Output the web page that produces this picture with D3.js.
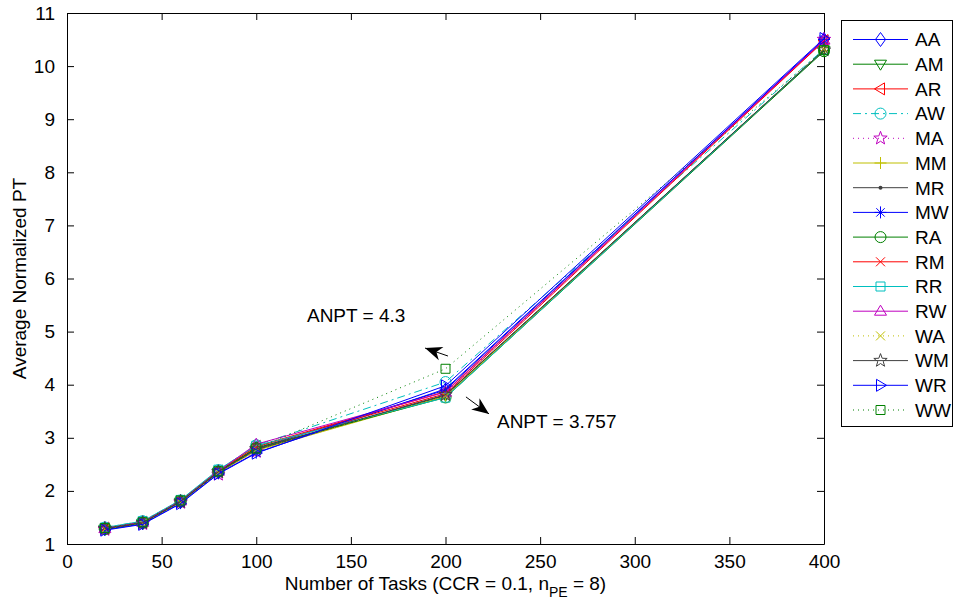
<!DOCTYPE html>
<html>
<head>
<meta charset="utf-8">
<script src="https://cdn.jsdelivr.net/npm/d3@7"></script>
<style>
  body { margin: 0; background: #fff; }
  text { font-family: Arial, "Liberation Sans", Helvetica, sans-serif; fill: #000; }
</style>
</head>
<body>
<svg id="chart" width="955" height="606"></svg>
<script>
// Number of tasks on the x axis
const tasks = [20, 40, 60, 80, 100, 200, 400];

// Average normalized PT per heuristic combination
const AA = [1.29, 1.40, 1.80, 2.36, 2.80, 3.90, 10.50];
const AM = [1.28, 1.39, 1.79, 2.35, 2.77, 3.80, 10.30];
const AR = [1.30, 1.41, 1.81, 2.37, 2.84, 3.87, 10.48];
const AW = [1.31, 1.43, 1.82, 2.39, 2.86, 4.05, 10.32];
const MA = [1.27, 1.38, 1.78, 2.31, 2.74, 3.84, 10.50];
const MM = [1.28, 1.39, 1.79, 2.34, 2.76, 3.78, 10.29];
const MR = [1.29, 1.40, 1.80, 2.35, 2.78, 3.80, 10.30];
const MW = [1.27, 1.38, 1.77, 2.33, 2.72, 3.92, 10.50];
const RA = [1.28, 1.40, 1.80, 2.36, 2.81, 3.76, 10.28];
const RM = [1.30, 1.42, 1.82, 2.38, 2.83, 3.83, 10.47];
const RR = [1.31, 1.43, 1.83, 2.40, 2.85, 3.757, 10.30];
const RW = [1.29, 1.41, 1.81, 2.37, 2.88, 3.86, 10.49];
const WA = [1.28, 1.39, 1.78, 2.34, 2.78, 3.79, 10.31];
const WM = [1.29, 1.40, 1.80, 2.36, 2.79, 3.81, 10.30];
const WR = [1.26, 1.37, 1.76, 2.32, 2.71, 3.98, 10.52];
const WW = [1.30, 1.41, 1.82, 2.37, 2.80, 4.30, 10.30];

const seriesNames = ["AA","AM","AR","AW","MA","MM","MR","MW","RA","RM","RR","RW","WA","WM","WR","WW"];
const seriesValues = [AA, AM, AR, AW, MA, MM, MR, MW, RA, RM, RR, RW, WA, WM, WR, WW];

const xTicks = [0, 50, 100, 150, 200, 250, 300, 350, 400];
const yTicks = [1, 2, 3, 4, 5, 6, 7, 8, 9, 10, 11];

// Callouts: text, arrow tail, arrow tip, text anchor (data units)
const callouts = [
  { label: "ANPT = 4.3",   tail: [201.3, 4.54], tip: [189.2, 4.69], at: [126.8, 5.19] },
  { label: "ANPT = 3.757", tail: [210.8, 3.77], tip: [223.0, 3.45], at: [227.2, 3.18] }
];

// Line styles (MATLAB default colour order)
const C = { b: "#0000ff", g: "#008000", r: "#ff0000", c: "#00bfbf", m: "#bf00bf", y: "#bfbf00", k: "#404040" };
const styles = {
  AA: { color: C.b, dash: null,      marker: "diamond" },
  AM: { color: C.g, dash: null,      marker: "tridown" },
  AR: { color: C.r, dash: null,      marker: "trileft" },
  AW: { color: C.c, dash: "8,4,2,4", marker: "circle" },
  MA: { color: C.m, dash: "1,4",     marker: "star" },
  MM: { color: C.y, dash: null,      marker: "plus" },
  MR: { color: C.k, dash: null,      marker: "point" },
  MW: { color: C.b, dash: null,      marker: "asterisk" },
  RA: { color: C.g, dash: null,      marker: "circle" },
  RM: { color: C.r, dash: null,      marker: "x" },
  RR: { color: C.c, dash: null,      marker: "square" },
  RW: { color: C.m, dash: null,      marker: "triup" },
  WA: { color: C.y, dash: "1,4",     marker: "x" },
  WM: { color: C.k, dash: null,      marker: "star" },
  WR: { color: C.b, dash: null,      marker: "triright" },
  WW: { color: C.g, dash: "1,4",     marker: "square" }
};

const svg = d3.select("#chart");
const FONT = 19;

const x = d3.scaleLinear().domain([0, 400]).range([67, 824]);
const y = d3.scaleLinear().domain([1, 11]).range([544, 13]);

// Marker path generators centred on (0,0)
function starPath(ro, ri) {
  const pts = [];
  for (let i = 0; i < 10; i++) {
    const r = i % 2 === 0 ? ro : ri;
    const a = -Math.PI / 2 + i * Math.PI / 5;
    pts.push([r * Math.cos(a), r * Math.sin(a)]);
  }
  return "M" + pts.map(p => p[0].toFixed(2) + "," + p[1].toFixed(2)).join("L") + "Z";
}
const markerPaths = {
  diamond: "M0,-7L5,0L0,7L-5,0Z",
  tridown: "M-6,-4L6,-4L0,6Z",
  triup: "M-6,4L6,4L0,-6Z",
  trileft: "M-6,0L4,-6L4,6Z",
  triright: "M6,0L-4,-6L-4,6Z",
  square: "M-4.5,-4.5H4.5V4.5H-4.5Z",
  plus: "M-6,0H6M0,-6V6",
  x: "M-4.5,-4.5L4.5,4.5M-4.5,4.5L4.5,-4.5",
  asterisk: "M-6,0H6M0,-6V6M-4.2,-4.2L4.2,4.2M-4.2,4.2L4.2,-4.2",
  star: starPath(7, 2.9)
};
function drawMarker(g, type, color, cx, cy) {
  if (type === "circle") {
    g.append("circle").attr("cx", cx).attr("cy", cy).attr("r", 5.5)
      .attr("fill", "none").attr("stroke", color).attr("stroke-width", 1);
  } else if (type === "point") {
    g.append("circle").attr("cx", cx).attr("cy", cy).attr("r", 2)
      .attr("fill", color).attr("stroke", "none");
  } else {
    g.append("path").attr("d", markerPaths[type]).attr("transform", `translate(${cx},${cy})`)
      .attr("fill", "none").attr("stroke", color).attr("stroke-width", 1);
  }
}

// Axes box with inward ticks on all four sides
const TICK = 7;
svg.append("g").attr("transform", "translate(0,544)")
  .call(d3.axisBottom(x).tickValues(xTicks).tickFormat(d3.format("d")).tickSizeInner(-TICK).tickSizeOuter(0).tickPadding(11))
  .call(g => g.selectAll("text").attr("font-size", FONT));
svg.append("g").attr("transform", "translate(0,13)")
  .call(d3.axisTop(x).tickValues(xTicks).tickFormat("").tickSizeInner(-TICK).tickSizeOuter(0));
svg.append("g").attr("transform", "translate(67,0)")
  .call(d3.axisLeft(y).tickValues(yTicks).tickFormat(d3.format("d")).tickSizeInner(-TICK).tickSizeOuter(0).tickPadding(12))
  .call(g => g.selectAll("text").attr("font-size", FONT));
svg.append("g").attr("transform", "translate(824,0)")
  .call(d3.axisRight(y).tickValues(yTicks).tickFormat("").tickSizeInner(-TICK).tickSizeOuter(0));
svg.selectAll(".domain").attr("stroke", "#000");
svg.selectAll(".tick line").attr("stroke", "#000");
svg.selectAll(".tick text").attr("font-family", "Arial, 'Liberation Sans', sans-serif").attr("fill", "#000");

// Series lines and markers
const line = d3.line().x((d, i) => x(tasks[i])).y(d => y(d));
const plot = svg.append("g");
seriesNames.forEach((name, k) => {
  const st = styles[name];
  const g = plot.append("g");
  g.append("path").datum(seriesValues[k]).attr("d", line)
    .attr("fill", "none").attr("stroke", st.color).attr("stroke-width", 1)
    .attr("stroke-dasharray", st.dash);
  seriesValues[k].forEach((v, i) => drawMarker(g, st.marker, st.color, x(tasks[i]), y(v)));
});

// Axis titles
const xt = svg.append("text").attr("x", x(200)).attr("y", 590).attr("text-anchor", "middle").attr("font-size", FONT);
xt.append("tspan").text("Number of Tasks (CCR = 0.1, n");
xt.append("tspan").attr("dy", 7).attr("font-size", 14).text("PE");
xt.append("tspan").attr("dy", -7).text(" = 8)");
svg.append("text").attr("transform", `translate(26,${(y(1) + y(11)) / 2}) rotate(-90)`)
  .attr("text-anchor", "middle").attr("font-size", FONT).text("Average Normalized PT");

// Callout arrows with notched heads
callouts.forEach(c => {
  const x0 = x(c.tail[0]), y0 = y(c.tail[1]), x1 = x(c.tip[0]), y1 = y(c.tip[1]);
  const ang = Math.atan2(y1 - y0, x1 - x0) * 180 / Math.PI;
  svg.append("line").attr("x1", x0).attr("y1", y0).attr("x2", x1).attr("y2", y1)
    .attr("stroke", "#000").attr("stroke-width", 1);
  svg.append("path").attr("d", "M0,0L-17,-7L-12,0L-17,7Z")
    .attr("transform", `translate(${x1},${y1}) rotate(${ang})`).attr("fill", "#000");
  svg.append("text").attr("x", x(c.at[0])).attr("y", y(c.at[1])).attr("font-size", FONT).text(c.label);
});

// Legend
const lg = svg.append("g");
lg.append("rect").attr("x", 841.5).attr("y", 20.5).attr("width", 111).attr("height", 406)
  .attr("fill", "#fff").attr("stroke", "#000").attr("stroke-width", 1);
seriesNames.forEach((name, k) => {
  const st = styles[name];
  const cy = 39.5 + k * 24.7;
  lg.append("line").attr("x1", 853).attr("x2", 908).attr("y1", cy).attr("y2", cy)
    .attr("stroke", st.color).attr("stroke-width", 1).attr("stroke-dasharray", st.dash);
  drawMarker(lg, st.marker, st.color, 880.5, cy);
  lg.append("text").attr("x", 915).attr("y", cy).attr("dy", "0.36em").attr("font-size", FONT).text(name);
});
</script>
</body>
</html>
